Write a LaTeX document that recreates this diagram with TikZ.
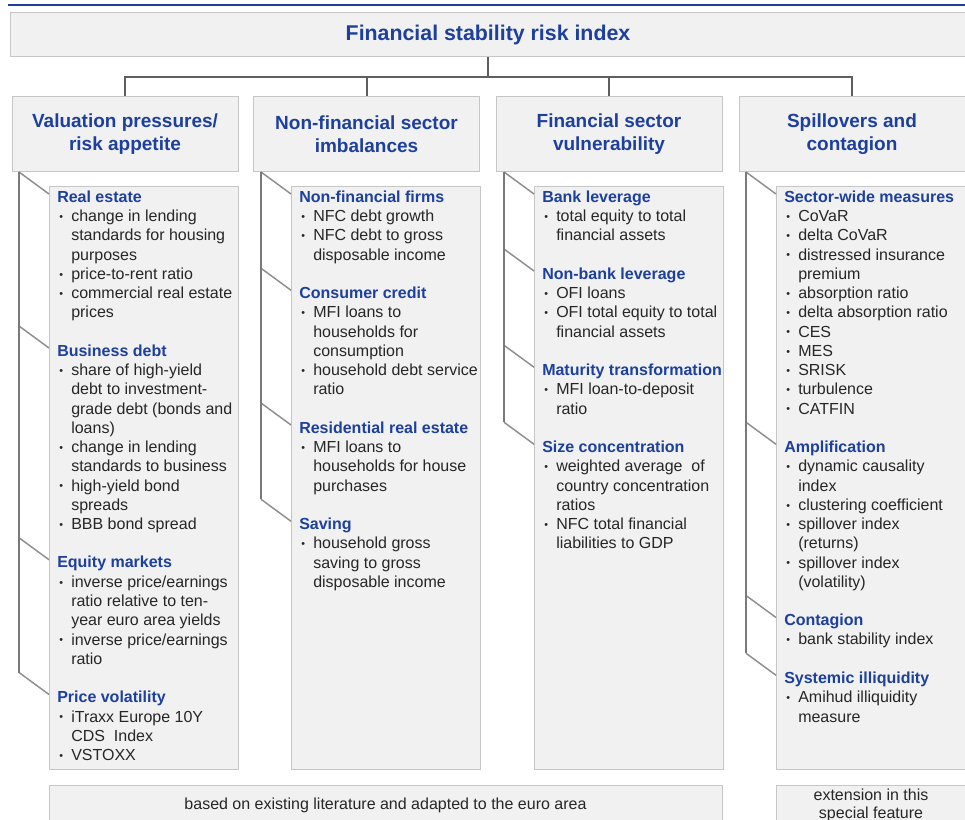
\documentclass[tikz,border=0pt]{standalone}
\usepackage{fontspec}
\setmainfont{Liberation Sans}
\usetikzlibrary{positioning}
\definecolor{ecbblue}{HTML}{1D3F9E}
\definecolor{boxfill}{HTML}{F1F1F1}
\definecolor{boxline}{HTML}{C6C6C6}
\definecolor{bodytext}{HTML}{262626}
\definecolor{treeline}{HTML}{5E5E5E}
\definecolor{spinegray}{HTML}{7A7A7A}
\definecolor{leafgray}{HTML}{8E8E8E}
\newcommand{\hd}[1]{\strut\textcolor{ecbblue}{\bfseries #1}}
\newcommand{\bl}{\makebox[10.5pt][l]{\hspace{1.5pt}\raisebox{.8pt}{\footnotesize\textbullet}}}
\newcommand{\ct}{\hspace*{10.5pt}}
\begin{document}
\begin{tikzpicture}[x=0.75pt,y=-0.75pt,
  panel/.style={draw=boxline, fill=boxfill, line width=0.75pt, inner sep=0pt},
  title/.style={panel, text=ecbblue, font=\fontsize{16}{19}\selectfont\bfseries},
  pillar/.style={panel, minimum width=169.5pt, minimum height=56.25pt, align=center, text=ecbblue, font=\fontsize{14.25}{17.25}\selectfont\bfseries},
  leafbox/.style={panel, minimum width=141.75pt, minimum height=436.5pt},
  group/.style={anchor=north west, align=left, inner xsep=6pt, inner ysep=0pt, text=bodytext, font=\fontsize{12}{14.44}\selectfont},
  note/.style={panel, align=center, minimum height=30pt, text=bodytext, font=\fontsize{12}{13.5}\selectfont},
  tree/.style={draw=treeline, line width=1.5pt},
  spine/.style={draw=spinegray, line width=1.5pt},
  leaf/.style={draw=leafgray, line width=1.1pt}]

\clip (0,0) rectangle (965,820);
\draw[ecbblue, line width=2pt] (8,5) -- (970,5);

\node[title, minimum width=717pt, minimum height=33pt] (fsri) at (488,35) {Financial stability risk index};

\node[pillar] (val) at (125,134.5) {Valuation pressures/\\risk appetite};
\node[pillar] (nfs) at (366.5,134.5) {Non-financial sector\\imbalances};
\node[pillar] (fsv) at (609,134.5) {Financial sector\\vulnerability};
\node[pillar] (spc) at (852,134.5) {Spillovers and\\contagion};

\coordinate (fork) at (488,77);
\draw[tree] (fsri.south) -- (fork);
\foreach \p in {val,nfs,fsv,spc}
  \draw[tree] (fork) -| (\p.north);

\node[leafbox] (box1) at (143.5,478) {};
\node[leafbox] (box2) at (385.5,478) {};
\node[leafbox] (box3) at (628.5,478) {};
\node[leafbox] (box4) at (870.5,478) {};

\node[group] (re) at (49,188.5) {\hd{Real estate}\\
  \bl change in lending\\ \ct standards for housing\\ \ct purposes\\
  \bl price-to-rent ratio\\
  \bl commercial real estate\\ \ct prices};
\node[group] (bd) at (49,342.5) {\hd{Business debt}\\
  \bl share of high-yield\\ \ct debt to investment-\\ \ct grade debt (bonds and\\ \ct loans)\\
  \bl change in lending\\ \ct standards to business\\
  \bl high-yield bond\\ \ct spreads\\
  \bl BBB bond spread};
\node[group] (eq) at (49,554.25) {\hd{Equity markets}\\
  \bl inverse price/earnings\\ \ct ratio relative to ten-\\ \ct year euro area yields\\
  \bl inverse price/earnings\\ \ct ratio};
\node[group] (pv) at (49,689) {\hd{Price volatility}\\
  \bl iTraxx Europe 10Y\\ \ct CDS\ \ Index\\
  \bl VSTOXX};

\node[group] (nff) at (291,188.5) {\hd{Non-financial firms}\\
  \bl NFC debt growth\\
  \bl NFC debt to gross\\ \ct disposable income};
\node[group] (cc) at (291,284.75) {\hd{Consumer credit}\\
  \bl MFI loans to\\ \ct households for\\ \ct consumption\\
  \bl household debt service\\ \ct ratio};
\node[group] (rre) at (291,419.5) {\hd{Residential real estate}\\
  \bl MFI loans to\\ \ct households for house\\ \ct purchases};
\node[group] (sav) at (291,515.75) {\hd{Saving}\\
  \bl household gross\\ \ct saving to gross\\ \ct disposable income};

\node[group] (bnk) at (534,188.5) {\hd{Bank leverage}\\
  \bl total equity to total\\ \ct financial assets};
\node[group] (nbl) at (534,265.5) {\hd{Non-bank leverage}\\
  \bl OFI loans\\
  \bl OFI total equity to total\\ \ct financial assets};
\node[group] (mt) at (534,361.75) {\hd{Maturity transformation}\\
  \bl MFI loan-to-deposit\\ \ct ratio};
\node[group] (sc) at (534,438.75) {\hd{Size concentration}\\
  \bl weighted average\ \ of\\ \ct country concentration\\ \ct ratios\\
  \bl NFC total financial\\ \ct liabilities to GDP};

\node[group] (swm) at (776,188.5) {\hd{Sector-wide measures}\\
  \bl CoVaR\\
  \bl delta CoVaR\\
  \bl distressed insurance\\ \ct premium\\
  \bl absorption ratio\\
  \bl delta absorption ratio\\
  \bl CES\\
  \bl MES\\
  \bl SRISK\\
  \bl turbulence\\
  \bl CATFIN};
\node[group] (amp) at (776,438.75) {\hd{Amplification}\\
  \bl dynamic causality\\ \ct index\\
  \bl clustering coefficient\\
  \bl spillover index\\ \ct (returns)\\
  \bl spillover index\\ \ct (volatility)};
\node[group] (cont) at (776,612) {\hd{Contagion}\\
  \bl bank stability index};
\node[group] (sil) at (776,669.75) {\hd{Systemic illiquidity}\\
  \bl Amihud illiquidity\\ \ct measure};

\foreach \g in {re,bd,eq,pv,nff,cc,rre,sav,bnk,nbl,mt,sc,swm,amp,cont,sil}
  \draw[leaf] ([shift={(-30,-16.5)}]\g.north west) -- ([shift={(0,5.5)}]\g.north west);
\foreach \p/\g in {val/pv,nfs/sav,fsv/sc,spc/sil}{
  \coordinate (e) at ([shift={(-30,-16.5)}]\g.north west);
  \draw[spine] (e) -- (e |- \p.south);
}

\node[note, minimum width=504.75pt] (lit) at (385.5,805) {based on existing literature and adapted to the euro area};
\node[note, minimum width=142.5pt] (ext) at (871,805) {extension in this\\special feature};
\end{tikzpicture}
\end{document}
